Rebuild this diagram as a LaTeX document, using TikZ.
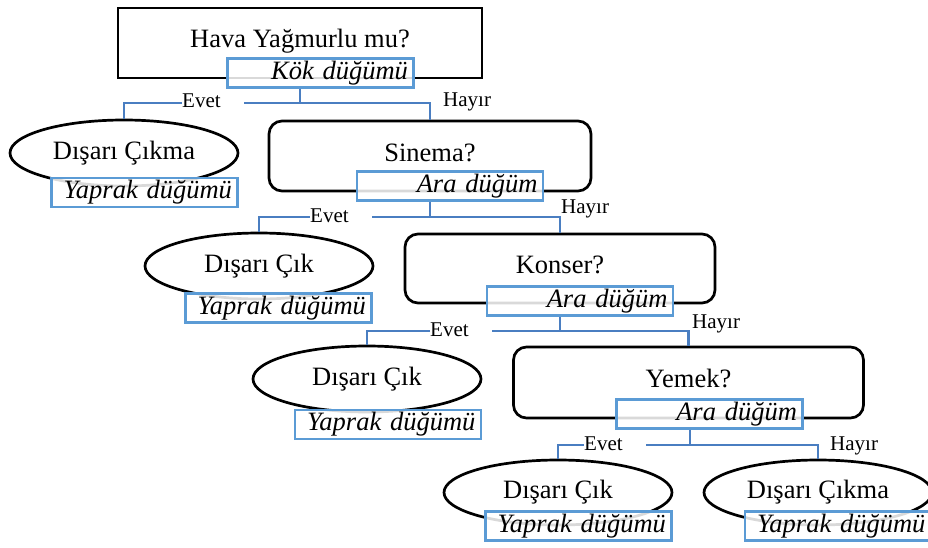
\documentclass[tikz,border=0pt]{standalone}
\usepackage{fontspec}
\setmainfont{Liberation Serif}
\usetikzlibrary{shapes.geometric}
\definecolor{tagblue}{RGB}{91,155,213}
\definecolor{linkblue}{RGB}{74,126,193}
\tikzset{
	question/.style={draw, line width=2.7pt, inner sep=0pt, text height=18pt, text depth=8pt, font=\fontsize{26.5}{30}\selectfont},
	leaf/.style={draw, ellipse, line width=2.7pt, inner sep=0pt, minimum width=228pt, minimum height=66pt, font=\fontsize{26.5}{30}\selectfont},
	tag/.style={draw=tagblue, line width=2.5pt, fill=white, fill opacity=0.85, text opacity=1, text width=175pt, align=right, inner xsep=5.5pt, inner ysep=0pt, minimum height=29pt, font=\fontsize{26.5}{30}\selectfont\itshape},
	link/.style={draw=linkblue, line width=2.5pt},
	evet/.style={fill=white, inner xsep=0pt, inner ysep=2pt, text width=62pt, align=left, anchor=base west, font=\fontsize{21}{24}\selectfont},
	hayir/.style={inner sep=0pt, anchor=base west, font=\fontsize{21}{24}\selectfont}
}

\begin{document}
\begin{tikzpicture}[x=1pt, y=-1pt]
	\clip (0,0) rectangle (928,548);
	\node[question, minimum width=364pt, minimum height=70pt] (root) at (300,43) {Hava Yağmurlu mu?};
	\node[tag] (kok) at ([shift={(20.5,30)}]root.center) {Kök düğümü};
	\node[leaf] (out1) at (124,153) {Dışarı Çıkma};
	\node[tag] (yap1) at ([shift={(20.5,39.5)}]out1.center) {Yaprak düğümü};
	\node[question, rounded corners=13pt, minimum width=322pt, minimum height=70pt] (cinema) at (430,156) {Sinema?};
	\node[tag] (ara1) at ([shift={(20,30)}]cinema.center) {Ara düğüm};
	\node[leaf] (out2) at (259,266) {Dışarı Çık};
	\node[tag] (yap2) at ([shift={(19.5,42)}]out2.center) {Yaprak düğümü};
	\node[question, rounded corners=13pt, minimum width=310pt, minimum height=69pt] (concert) at (560,268.5) {Konser?};
	\node[tag] (ara2) at ([shift={(20,32.5)}]concert.center) {Ara düğüm};
	\node[leaf] (out3) at (367,379) {Dışarı Çık};
	\node[tag] (yap3) at ([shift={(21,45.5)}]out3.center) {Yaprak düğümü};
	\node[question, rounded corners=13pt, minimum width=350pt, minimum height=71pt] (food) at (688.5,382.5) {Yemek?};
	\node[tag] (ara3) at ([shift={(21,31.5)}]food.center) {Ara düğüm};
	\node[leaf, minimum height=65pt] (out4) at (558,492.5) {Dışarı Çık};
	\node[tag] (yap4) at ([shift={(20.5,33.5)}]out4.center) {Yaprak düğümü};
	\node[leaf, minimum height=65pt] (out5) at (818,492.5) {Dışarı Çıkma};
	\node[tag] (yap5) at ([shift={(20,33.5)}]out5.center) {Yaprak düğümü};
	\coordinate (j1) at (300,103);
	\coordinate (j2) at (430,217);
	\coordinate (j3) at (560,331);
	\coordinate (j4) at (690,445);
	\draw[link] (root |- kok.south) -- (j1) -| (out1.north);
	\draw[link] (j1) -| (cinema.north);
	\draw[link] (cinema |- ara1.south) -- (j2) -| (out2.north);
	\draw[link] (j2) -| (concert.north);
	\draw[link] (concert |- ara2.south) -- (j3) -| (out3.north);
	\draw[link] (j3) -| (food.north);
	\draw[link] (j4 |- ara3.south) -- (j4) -| (out4.north);
	\draw[link] (j4) -| (out5.north);
	\node[evet] (e1) at (182,108) {Evet};
	\node[hayir] (h1) at (443,107) {Hayır};
	\node[evet] (e2) at (310,222) {Evet};
	\node[hayir] (h2) at (561,213) {Hayır};
	\node[evet] (e3) at (430,336) {Evet};
	\node[hayir] (h3) at (692,328) {Hayır};
	\node[evet] (e4) at (584,450) {Evet};
	\node[hayir] (h4) at (830,450) {Hayır};
\end{tikzpicture}
\end{document}
